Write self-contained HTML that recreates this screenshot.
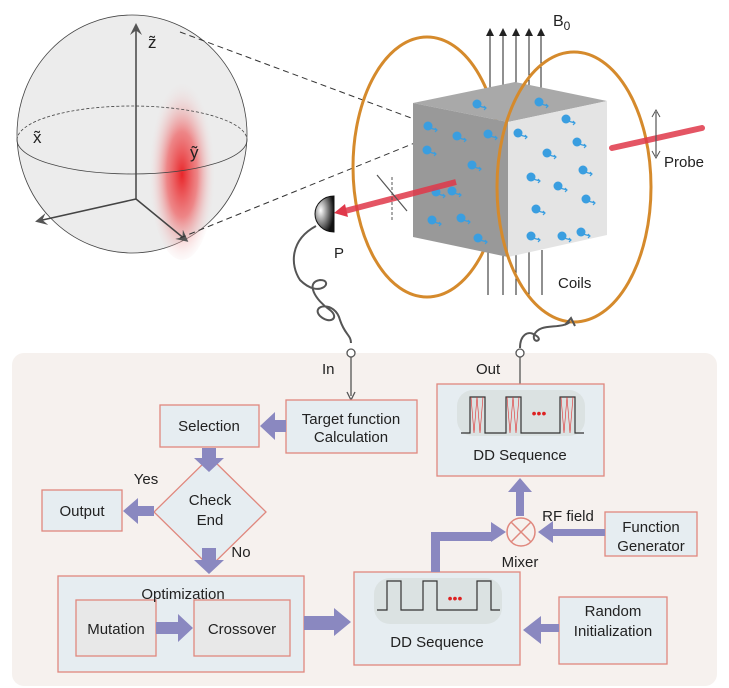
<!DOCTYPE html>
<html><head><meta charset="utf-8"><style>
body{margin:0;background:#fff;}
svg{display:block;font-family:"Liberation Sans",sans-serif;}
</style></head><body>
<svg width="729" height="688" viewBox="0 0 729 688" xmlns="http://www.w3.org/2000/svg">
<defs>
<radialGradient id="glow" cx="0.5" cy="0.55" r="0.5">
<stop offset="0" stop-color="#e8262a"/><stop offset="0.45" stop-color="#ee5a5c" stop-opacity="0.7"/><stop offset="1" stop-color="#f0f0f0" stop-opacity="0"/>
</radialGradient>
<radialGradient id="det" cx="0.3" cy="0.4" r="0.7"><stop offset="0" stop-color="#fff"/><stop offset="1" stop-color="#111"/></radialGradient>
<marker id="ah" markerWidth="8" markerHeight="8" refX="6" refY="4" orient="auto"><path d="M0,0 L8,4 L0,8 Z" fill="#222"/></marker>
<marker id="ag" markerWidth="8" markerHeight="8" refX="6" refY="4" orient="auto"><path d="M0,0 L8,4 L0,8 L3,4Z" fill="#555"/></marker>
<g id="spin"><circle r="4.5" fill="#3a9ee0"/><path d="M2,2 L9,4 M7,2 L9,4 L7,6" stroke="#3a9ee0" stroke-width="1.2" fill="none"/></g>
</defs>

<!-- Sphere -->
<ellipse cx="132" cy="134" rx="115" ry="119" fill="#ececec" stroke="#444" stroke-width="0.8"/>
<ellipse cx="182" cy="165" rx="34" ry="95" fill="url(#glow)"/>
<path d="M17,140 A115,34 0 0 1 247,140" fill="none" stroke="#444" stroke-width="0.8" stroke-dasharray="3,2"/>
<path d="M17,140 A115,34 0 0 0 247,140" fill="none" stroke="#444" stroke-width="0.8"/>
<line x1="136" y1="199" x2="136" y2="26" stroke="#444" stroke-width="1.5" marker-end="url(#ag)"/>
<line x1="136" y1="199" x2="38" y2="221" stroke="#444" stroke-width="1.5" marker-end="url(#ag)"/>
<line x1="136" y1="199" x2="186" y2="240" stroke="#444" stroke-width="1.5" marker-end="url(#ag)"/>
<text x="148" y="48" font-size="17" fill="#222">z̃</text>
<text x="33" y="143" font-size="17" fill="#222">x̃</text>
<text x="190" y="158" font-size="17" fill="#222">ỹ</text>
<line x1="180" y1="32" x2="430" y2="125" stroke="#333" stroke-dasharray="6,4"/>
<line x1="180" y1="238" x2="432" y2="136" stroke="#333" stroke-dasharray="6,4"/>

<!-- left coil -->
<ellipse cx="427" cy="167" rx="74" ry="130" fill="none" stroke="#d58a2c" stroke-width="3"/>
<g stroke="#222" stroke-width="1">
<line x1="490" y1="98" x2="490" y2="30" marker-end="url(#ah)"/>
<line x1="503" y1="98" x2="503" y2="30" marker-end="url(#ah)"/>
<line x1="516" y1="98" x2="516" y2="30" marker-end="url(#ah)"/>
<line x1="529" y1="98" x2="529" y2="30" marker-end="url(#ah)"/>
<line x1="541" y1="98" x2="541" y2="30" marker-end="url(#ah)"/>
<line x1="488" y1="250" x2="488" y2="295"/><line x1="503" y1="250" x2="503" y2="295"/><line x1="516" y1="250" x2="516" y2="295"/><line x1="529" y1="250" x2="529" y2="295"/><line x1="542" y1="250" x2="542" y2="295"/>
</g>
<text x="553" y="26" font-size="16" fill="#222">B<tspan font-size="12" dy="4">0</tspan></text>
<polygon points="413,103 515,82 607,101 508,122" fill="#a9a9a9"/>
<polygon points="413,103 508,122 508,257 413,237" fill="#999"/>
<polygon points="508,122 607,101 607,235 508,257" fill="#e4e4e4"/>
<g>
<use href="#spin" x="428" y="126"/><use href="#spin" x="427" y="150"/><use href="#spin" x="457" y="136"/><use href="#spin" x="472" y="165"/><use href="#spin" x="436" y="192"/><use href="#spin" x="452" y="191"/><use href="#spin" x="432" y="220"/><use href="#spin" x="461" y="218"/><use href="#spin" x="478" y="238"/><use href="#spin" x="477" y="104"/><use href="#spin" x="539" y="102"/><use href="#spin" x="488" y="134"/>
<use href="#spin" x="518" y="133"/><use href="#spin" x="566" y="119"/><use href="#spin" x="547" y="153"/><use href="#spin" x="577" y="142"/><use href="#spin" x="531" y="177"/><use href="#spin" x="558" y="186"/><use href="#spin" x="583" y="170"/><use href="#spin" x="536" y="209"/><use href="#spin" x="586" y="199"/><use href="#spin" x="531" y="236"/><use href="#spin" x="562" y="236"/><use href="#spin" x="581" y="232"/>
</g>
<ellipse cx="574" cy="187" rx="77" ry="135" fill="none" stroke="#d58a2c" stroke-width="3"/>
<text x="558" y="288" font-size="15" fill="#222">Coils</text>
<line x1="612" y1="148" x2="702" y2="128" stroke="#e0384a" stroke-width="6" stroke-linecap="round" opacity="0.85"/>
<line x1="456" y1="182" x2="345" y2="211" stroke="#e0384a" stroke-width="6" opacity="0.85"/>
<path d="M345,204 L334,213 L348,217Z" fill="#e0384a"/>
<line x1="656" y1="112" x2="656" y2="156" stroke="#555" stroke-width="1.2"/>
<path d="M652,117 L656,110 L660,117 M652,151 L656,158 L660,151" stroke="#555" fill="none"/>
<text x="664" y="167" font-size="15" fill="#222">Probe</text>
<line x1="377" y1="175" x2="407" y2="211" stroke="#555" stroke-width="1.2"/>
<line x1="392" y1="177" x2="392" y2="220" stroke="#555" stroke-width="1" stroke-dasharray="3,2"/>
<path d="M334,196 A19,18 0 0 0 334,232 Z" fill="url(#det)" stroke="#111"/>
<text x="334" y="258" font-size="15" fill="#222">P</text>
<path d="M316,226 C290,240 290,265 300,280 C320,300 335,280 320,280 C305,282 315,300 330,310 C340,318 330,325 320,316 C310,305 335,300 340,320 C345,335 351,335 351,343" fill="none" stroke="#555" stroke-width="2"/>
<path d="M520,348 C520,335 528,330 535,335 C545,340 532,345 534,335 C540,322 560,330 570,322" fill="none" stroke="#555" stroke-width="2"/>
<path d="M565,325 L571,318 L575,326" stroke="#555" stroke-width="2" fill="none"/>

<rect x="12" y="353" width="705" height="333" rx="12" fill="#f6f1ee"/>
<g fill="none" stroke="#555" stroke-width="1.3">
<circle cx="351" cy="353" r="4" fill="#fff"/><line x1="351" y1="357" x2="351" y2="396"/>
<circle cx="520" cy="353" r="4" fill="#fff"/><line x1="520" y1="357" x2="520" y2="384"/>
</g>
<path d="M347,392 L351,400 L355,392" stroke="#555" fill="none" stroke-width="1.3"/>
<text x="322" y="374" font-size="15" fill="#222">In</text>
<text x="476" y="374" font-size="15" fill="#222">Out</text>

<g fill="#e6edf1" stroke="#e0887e" stroke-width="1.3">
<rect x="160" y="405" width="99" height="42"/>
<rect x="286" y="400" width="131" height="53"/>
<rect x="42" y="490" width="80" height="41"/>
<polygon points="210,457 266,512 210,567 154,512"/>
<rect x="58" y="576" width="246" height="96"/>
<rect x="76" y="600" width="80" height="56" fill="#e8e8e8"/>
<rect x="194" y="600" width="96" height="56" fill="#e8e8e8"/>
<rect x="354" y="572" width="166" height="93"/>
<rect x="559" y="597" width="108" height="67"/>
<rect x="605" y="512" width="92" height="44"/>
<rect x="437" y="384" width="167" height="92"/>
</g>
<g font-size="15" fill="#222" text-anchor="middle">
<text x="209" y="431">Selection</text>
<text x="351" y="424">Target function</text><text x="351" y="442">Calculation</text>
<text x="82" y="516">Output</text>
<text x="210" y="505">Check</text><text x="210" y="525">End</text>
<text x="146" y="484">Yes</text><text x="241" y="557">No</text>
<text x="183" y="599">Optimization</text>
<text x="116" y="634">Mutation</text><text x="242" y="634">Crossover</text>
<text x="437" y="647">DD Sequence</text>
<text x="520" y="460">DD Sequence</text>
<text x="613" y="616">Random</text><text x="613" y="636">Initialization</text>
<text x="651" y="532">Function</text><text x="651" y="551">Generator</text>
<text x="568" y="521">RF field</text>
<text x="520" y="567">Mixer</text>
</g>
<rect x="374" y="578" width="128" height="46" rx="16" fill="#dbe2e2"/>
<path d="M377,610 H387 V581 H401 V610 H423 V581 H437 V610 H477 V581 H491 V610 H500" fill="none" stroke="#333" stroke-width="1.2"/>
<text x="455" y="603" font-size="14" fill="#d22" text-anchor="middle">•••</text>
<rect x="457" y="390" width="128" height="46" rx="16" fill="#dbe2e2"/>
<path d="M461,433 H470 V397 H485 V433 H506 V397 H521 V433 H560 V397 H575 V433 H584" fill="none" stroke="#333" stroke-width="1.2"/>
<g stroke="#e03030" stroke-width="0.6" fill="none"><path d="M471,397 L474,433 L477,397 L480,433 L483,397"/><path d="M507,397 L510,433 L513,397 L516,433 L519,397"/><path d="M561,397 L564,433 L567,397 L570,433 L573,397"/></g>
<text x="539" y="418" font-size="14" fill="#d22" text-anchor="middle">•••</text>
<circle cx="521" cy="532" r="14" fill="#f6f1ee" stroke="#e0887e" stroke-width="1.5"/>
<path d="M511,522 L531,542 M531,522 L511,542" stroke="#e0887e" stroke-width="1.5"/>
<g fill="#8a88c0">
<path d="M286,420 H275 V412 L260,426 L275,440 V432 H286Z"/>
<path d="M202,448 V458 H194 L209,472 L224,458 H216 V448Z"/>
<path d="M154,506 H138 V498 L123,511 L138,524 V516 H154Z"/>
<path d="M202,548 V560 H194 L209,574 L224,560 H216 V548Z"/>
<path d="M156,622 H178 V614 L193,628 L178,642 V634 H156Z"/>
<path d="M304,616 H334 V608 L351,622 L334,636 V630 H304Z"/>
<path d="M559,624 H541 V616 L523,630 L541,644 V632 H559Z"/>
<path d="M605,529 H553 V521 L538,532 L553,543 V536 H605Z"/>
<path d="M431,572 V532 H491 V522 L506,532 L491,542 V541 H440 V572Z"/>
<path d="M516,516 V492 H508 L520,478 L532,492 H524 V516Z"/>
</g>
</svg>
</body></html>
